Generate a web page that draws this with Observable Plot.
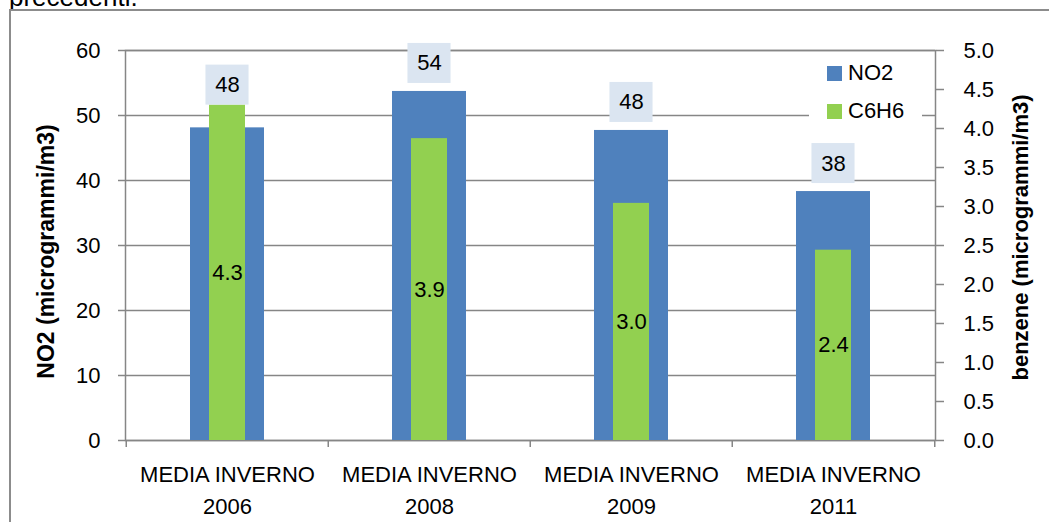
<!DOCTYPE html>
<html>
<head>
<meta charset="utf-8">
<script src="https://cdn.jsdelivr.net/npm/d3@7"></script>
<script src="https://cdn.jsdelivr.net/npm/@observablehq/plot@0.6"></script>
<style>
  html, body { margin: 0; padding: 0; background: #fff; }
  body { width: 1049px; height: 522px; position: relative; overflow: hidden; font-family: "Liberation Sans", Arial, sans-serif; }
  #pagetext { position: absolute; left: 9px; top: -16px; font-size: 26px; line-height: 26px; color: #000; white-space: nowrap; }
  #frameline { position: absolute; left: 9px; top: 9px; width: 1100px; height: 600px; background: #fff; border-top: 2px solid #8c8c8c; border-left: 2px solid #8c8c8c; }
  #chart { position: absolute; left: 0; top: 0; }
  #legend { position: absolute; left: 809px; top: 56px; width: 113px; height: 72px; background: #fff; font-size: 22px; color: #000; }
  #legend .item { position: absolute; left: 18px; display: flex; align-items: center; height: 22px; }
  #legend .sw { width: 15px; height: 15px; margin-right: 6px; }
</style>
</head>
<body>
<div id="pagetext">precedenti.</div>
<div id="frameline"></div>
<div id="chart"></div>
<div id="legend"></div>
<script>
// ---- data ----
const categories = ["MEDIA INVERNO 2006", "MEDIA INVERNO 2008", "MEDIA INVERNO 2009", "MEDIA INVERNO 2011"];
const no2Values = [48.1, 53.7, 47.7, 38.3];      // NO2 (microgrammi/m3), left axis
const c6h6Values = [4.3, 3.87, 3.04, 2.44];      // benzene (microgrammi/m3), right axis
const leftTicks = [0, 10, 20, 30, 40, 50, 60];
const rightTicks = [0, 0.5, 1, 1.5, 2, 2.5, 3, 3.5, 4, 4.5, 5];
const seriesNames = ["NO2", "C6H6"];
const leftTitle = "NO2 (microgrammi/m3)";
const rightTitle = "benzene (microgrammi/m3)";

// ---- layout / style ----
const W = 1049, H = 522;
const mL = 125, mR = 114, mT = 50, mB = 82;
const blue = "#4f81bd", green = "#92d050", boxFill = "#dbe5f1", gridColor = "#868686";
const leftMax = 60, rightMax = 5, k = leftMax / rightMax; // right axis mapped onto left scale
const step = (W - mL - mR) / categories.length;

const rows = categories.map((c, i) => {
  const c6s = c6h6Values[i] * k;
  const over = c6s > no2Values[i];
  return { cat: c, no2: no2Values[i], c6h6: c6h6Values[i], c6s, top: Math.max(no2Values[i], c6s), over };
});

const boxH = 40, boxW = 43;
const bw = step * 0.365;
const boxInset = (bw - boxW) / 2;
const labelBox = (data, gap) => [
  Plot.barY(data, { x: "cat", y1: "top", y2: "top", fill: boxFill,
    insetLeft: boxInset, insetRight: boxInset, insetTop: -(gap + boxH), insetBottom: gap }),
  Plot.text(data, { x: "cat", y: "top", text: d => d3.format(".0f")(d.no2), dy: -(gap + boxH / 2), fill: "#000" })
];

const chart = Plot.plot({
  width: W, height: H,
  marginLeft: mL, marginRight: mR, marginTop: mT, marginBottom: mB,
  style: { fontFamily: "Liberation Sans, Arial, sans-serif", fontSize: "22px", color: "#000", background: "transparent", overflow: "visible" },
  x: { domain: categories, paddingInner: 0.635, paddingOuter: 0.3175, axis: null },
  y: { domain: [0, leftMax], axis: null },
  marks: [
    Plot.ruleY(leftTicks, { stroke: gridColor, strokeWidth: 1.5 }),
    Plot.frame({ stroke: gridColor, strokeWidth: 1.5 }),
    // category boundary ticks
    Plot.ruleX(categories, { x: d => d, y1: 0, y2: 0, dx: -step / 2, insetBottom: -7, stroke: gridColor, strokeWidth: 1.5 }),
    Plot.ruleX(categories.slice(-1), { x: d => d, y1: 0, y2: 0, dx: step / 2, insetBottom: -7, stroke: gridColor, strokeWidth: 1.5 }),
    Plot.barY(rows, { x: "cat", y: "no2", fill: blue }),
    Plot.barY(rows, { x: "cat", y: "c6s", fill: green, insetLeft: 19, insetRight: 19 }),
    ...labelBox(rows.filter(d => !d.over), 8),
    ...labelBox(rows.filter(d => d.over), 0),
    Plot.text(rows, { x: "cat", y: d => d.c6s / 2, text: d => d.c6h6.toFixed(1), fill: "#000" }),
    Plot.axisY(leftTicks, { anchor: "left", tickSize: 7, tickPadding: 18, stroke: gridColor, strokeWidth: 1.5, label: null, fontSize: 22 }),
    Plot.axisY(rightTicks.map(d => d * k), { anchor: "right", tickSize: 8, tickPadding: 20, stroke: gridColor, strokeWidth: 1.5,
      tickFormat: d => (d / k).toFixed(1), label: null, fontSize: 22 }),
    Plot.text(categories, { x: d => d, frameAnchor: "bottom", lineAnchor: "top", dy: 19, lineHeight: 1.45,
      text: d => d.replace(/ (\d+)$/, "\n$1"), fill: "#000" }),
    Plot.text([leftTitle], { frameAnchor: "left", textAnchor: "middle", rotate: -90, dx: -79, dy: 6, fontSize: 23, fontWeight: "bold", fill: "#000" }),
    Plot.text([rightTitle], { frameAnchor: "right", textAnchor: "middle", rotate: -90, dx: 85, dy: -8, fontWeight: "bold", fill: "#000" })
  ]
});
document.getElementById("chart").appendChild(chart);

// legend
const legend = document.getElementById("legend");
[[seriesNames[0], blue, 6], [seriesNames[1], green, 44]].forEach(([name, col, top]) => {
  const it = document.createElement("div");
  it.className = "item";
  it.style.top = top + "px";
  const sw = document.createElement("div");
  sw.className = "sw";
  sw.style.background = col;
  const tx = document.createElement("span");
  tx.textContent = name;
  it.appendChild(sw); it.appendChild(tx);
  legend.appendChild(it);
});
</script>
</body>
</html>
